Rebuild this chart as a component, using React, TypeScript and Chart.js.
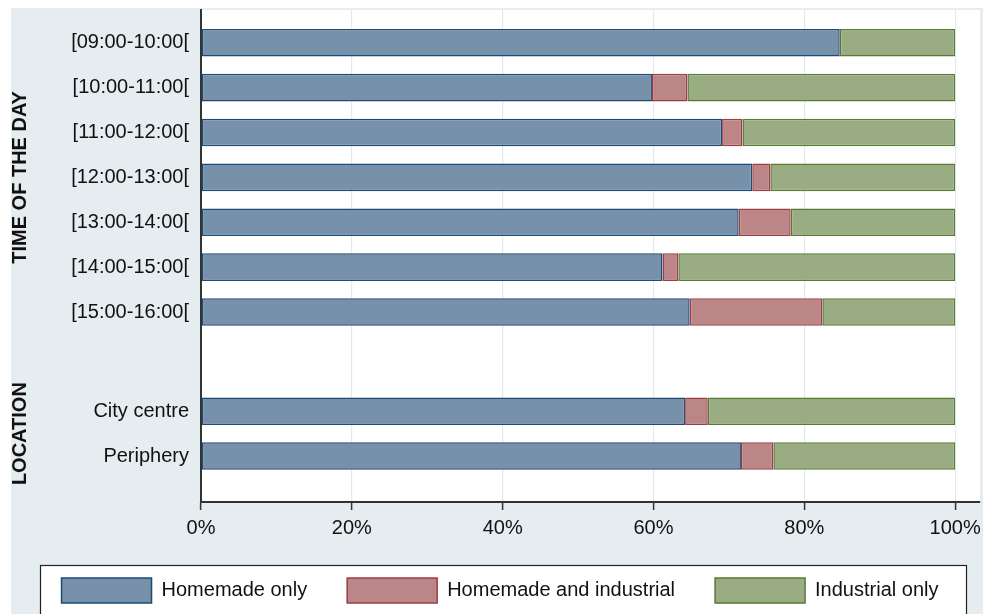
import React, { useEffect, useRef } from "react";
import { Chart, registerables } from "chart.js";

Chart.register(...registerables);

// ---------- data ----------
const timeSlots = [
  "[09:00-10:00[",
  "[10:00-11:00[",
  "[11:00-12:00[",
  "[12:00-13:00[",
  "[13:00-14:00[",
  "[14:00-15:00[",
  "[15:00-16:00[",
];
const locations = ["City centre", "Periphery"];
const groupTitles = ["TIME OF THE DAY", "LOCATION"];

const seriesNames = ["Homemade only", "Homemade and industrial", "Industrial only"];
const homemadeOnly = [84.7, 59.8, 69.1, 73.1, 71.3, 61.2, 64.8, 64.2, 71.6];
const homemadeAndIndustrial = [0, 4.7, 2.7, 2.4, 6.9, 2.1, 17.6, 3.0, 4.3];
const industrialOnly = [15.3, 35.5, 28.2, 24.5, 21.8, 36.7, 17.6, 32.8, 24.1];

const xTickValues = [0, 20, 40, 60, 80, 100];

// ---------- layout / style ----------
const GROUP_GAP = 2.21; // row units between the two groups
const FONT = "'Liberation Sans', Arial, Helvetica, sans-serif";
const fills = ["#7691a9", "#bc8689", "#99ac82"];
const borders = ["#1f4a72", "#9a3d44", "#587a33"];

const categories = [...timeSlots, ...locations];
const rowPos = categories.map((_, i) =>
  i < timeSlots.length ? i : timeSlots.length - 1 + GROUP_GAP + (i - timeSlots.length)
);

const bgPlugin = {
  id: "stataBg",
  beforeDraw(chart: any) {
    const { ctx, chartArea } = chart;
    ctx.save();
    ctx.fillStyle = "#ffffff";
    ctx.fillRect(0, 0, chart.width, chart.height);
    ctx.fillStyle = "#e5edf0";
    ctx.fillRect(11, 8, 972, chart.height - 8);
    ctx.fillStyle = "#ffffff";
    ctx.fillRect(chartArea.left, chartArea.top, chartArea.right - chartArea.left, chartArea.bottom - chartArea.top);
    // legend frame background
    ctx.fillRect(40, 565, 926, chart.height - 565);
    ctx.restore();
  },
  afterDraw(chart: any) {
    const { ctx } = chart;
    const y = chart.scales.y;
    ctx.save();
    // legend frame
    ctx.strokeStyle = "#222";
    ctx.lineWidth = 1.2;
    ctx.strokeRect(40.5, 565.5, 926, 60);
    // group titles
    ctx.fillStyle = "#111";
    ctx.font = `bold 20px ${FONT}`;
    ctx.textAlign = "center";
    ctx.textBaseline = "middle";
    const groups = [
      [0, timeSlots.length - 1],
      [timeSlots.length, categories.length - 1],
    ];
    groups.forEach(([a, b], gi) => {
      const mid = (y.getPixelForValue(rowPos[a]) + y.getPixelForValue(rowPos[b])) / 2;
      ctx.save();
      ctx.translate(20, mid);
      ctx.rotate(-Math.PI / 2);
      ctx.fillText(groupTitles[gi], 0, 0);
      ctx.restore();
    });
    ctx.restore();
  },
};

export default function App() {
  const ref = useRef<HTMLCanvasElement | null>(null);

  useEffect(() => {
    if (!ref.current) return;
    Chart.defaults.font.family = FONT;
    Chart.defaults.font.size = 20;
    Chart.defaults.color = "#111";

    const series = [homemadeOnly, homemadeAndIndustrial, industrialOnly];
    const chart = new Chart(ref.current, {
      type: "bar",
      data: {
        datasets: series.map((vals, si) => ({
          label: seriesNames[si],
          data: vals.map((v, i) => ({ x: v, y: rowPos[i] })),
          backgroundColor: fills[si],
          borderColor: borders[si],
          borderWidth: 1.5,
          borderSkipped: false,
          barPercentage: 0.615,
          categoryPercentage: 1,
        })),
      },
      options: {
        indexAxis: "y",
        animation: false,
        responsive: false,
        events: [],
        layout: { padding: { left: 20, right: 7, top: 10, bottom: 1 } },
        scales: {
          x: {
            type: "linear",
            stacked: true,
            min: 0,
            max: 103.3,
            afterBuildTicks: (s: any) => {
              s.ticks = xTickValues.map((v) => ({ value: v }));
            },
            afterFit: (s: any) => {
              s.height = 36;
              s.paddingLeft = 0;
              s.paddingRight = 0;
            },
            ticks: {
              callback: (v: any) => `${v}%`,
              padding: 6,
              maxRotation: 0,
              autoSkip: false,
              color: "#111",
              font: { size: 20 },
            },
            grid: {
              color: (c: any) => (c.tick && c.tick.value === 0 ? "rgba(0,0,0,0)" : "#e3eaee"),
              lineWidth: 1.2,
              tickColor: "#333",
              tickLength: 8,
              tickWidth: 1.5,
            },
            border: { display: true, color: "#333", width: 2 },
          },
          y: {
            type: "linear",
            stacked: true,
            reverse: true,
            offset: false,
            min: -0.731,
            max: 10.234,
            afterBuildTicks: (s: any) => {
              s.ticks = rowPos.map((v) => ({ value: v }));
            },
            afterFit: (s: any) => {
              s.width = 181;
              s.paddingTop = 0;
              s.paddingBottom = 0;
            },
            ticks: {
              callback: (_v: any, i: number) => categories[i],
              autoSkip: false,
              padding: 4,
              color: "#111",
              font: { size: 20 },
            },
            grid: { display: false, offset: false },
            border: { display: true, color: "#333", width: 2 },
          },
        },
        plugins: {
          legend: {
            position: "bottom",
            labels: {
              boxWidth: 90,
              boxHeight: 25,
              padding: 40,
              color: "#111",
              font: { size: 20 },
            },
          },
          tooltip: { enabled: false },
        },
      },
      plugins: [bgPlugin],
    } as any);
    return () => chart.destroy();
  }, []);

  return (
    <div
      style={{
        position: "fixed",
        left: 0,
        top: 0,
        width: 987,
        height: 614,
        background: "#fff",
        overflow: "hidden",
      }}
    >
      <canvas ref={ref} width={987} height={614} style={{ display: "block" }} />
    </div>
  );
}
